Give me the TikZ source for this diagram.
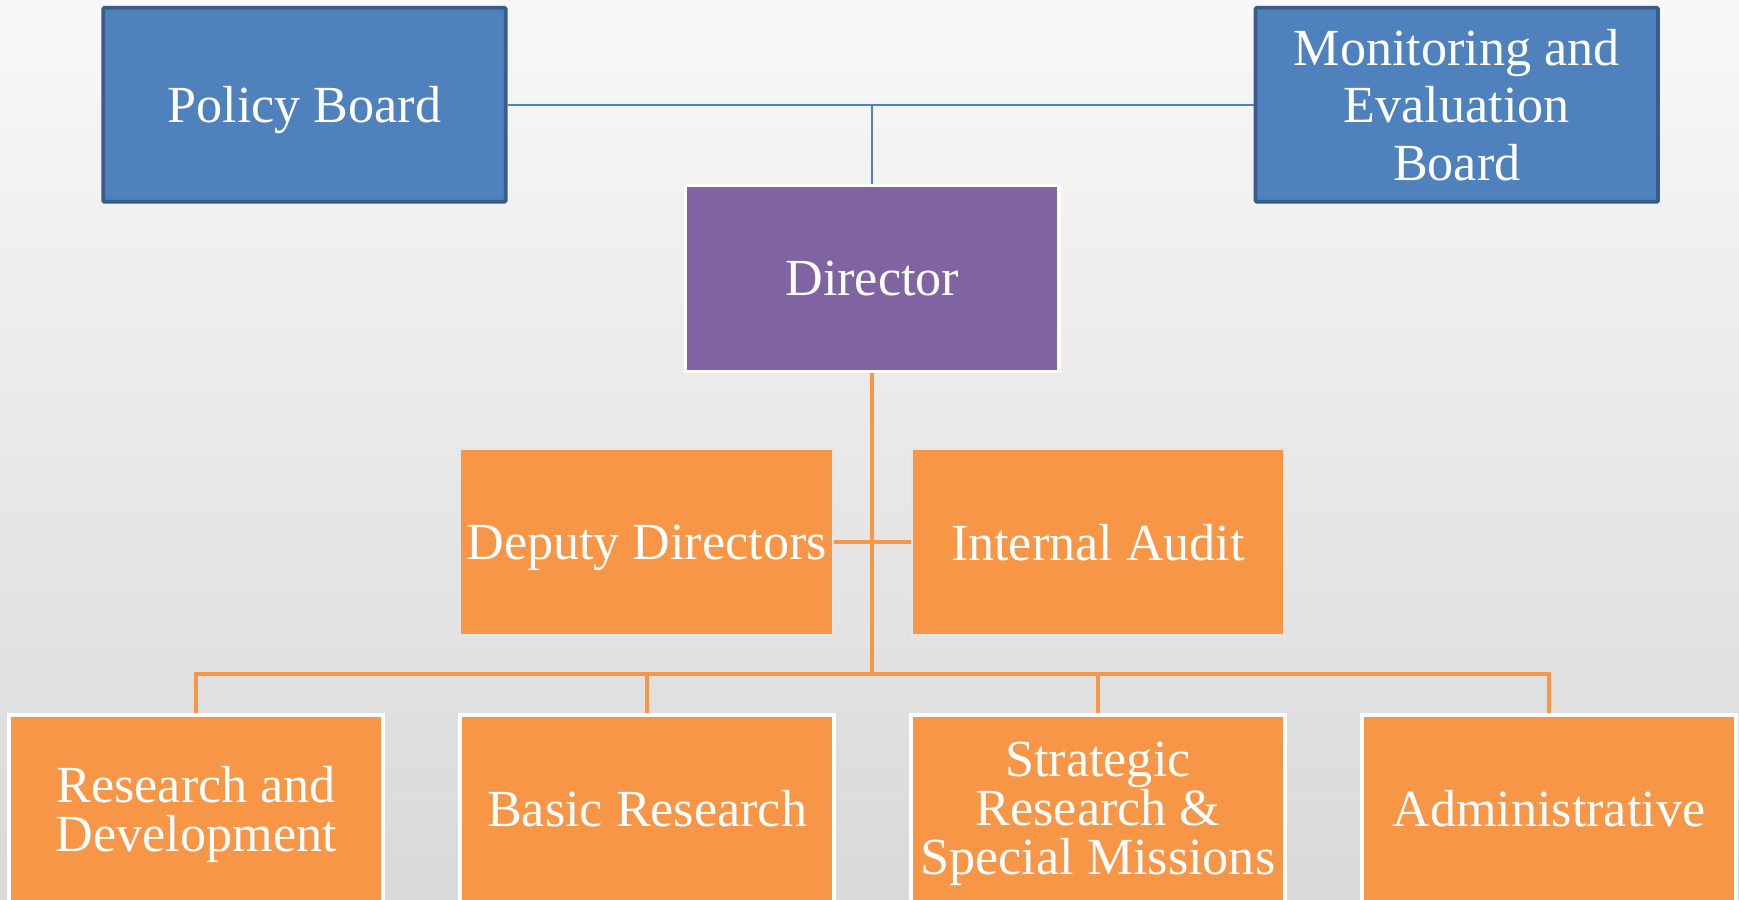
\documentclass[tikz,border=0pt]{standalone}
\usepackage{fontspec}
\setmainfont{Liberation Serif}
\definecolor{boardblue}{HTML}{4F81BD}
\definecolor{boardedge}{HTML}{385D8A}
\definecolor{dirpurple}{HTML}{8064A2}
\definecolor{unitorange}{HTML}{F79646}
\definecolor{bgtop}{HTML}{F8F8F8}
\definecolor{bgbot}{HTML}{D9D9D9}
\newcommand{\bx}{\fontsize{23.5}{22}\selectfont}

\begin{document}
\begin{tikzpicture}[x=0.5pt,y=-0.5pt,
   box/.style={rectangle, text=white, font=\bx, align=center, inner sep=0pt,
      text depth=0pt},
   board/.style={box, fill=boardblue, draw=boardedge, line width=1.7pt,
      minimum width=181.5pt, minimum height=87.5pt, rounded corners=0.6pt},
   chief/.style={box, fill=dirpurple, draw=white, line width=1.5pt,
      minimum width=168.5pt, minimum height=84pt},
   staff/.style={box, fill=unitorange, draw=white!90!black, line width=1pt,
      minimum width=168pt, minimum height=84pt},
   unit/.style={box, fill=unitorange, draw=white, line width=1.8pt,
      minimum width=168.5pt, minimum height=84pt},
   bline/.style={boardblue, line width=1pt},
   oline/.style={unitorange, line width=1.8pt}]
   \useasboundingbox (0,0) rectangle (1568,811);
   \clip (0,0) rectangle (1568,811);
   \shade[top color=bgtop, bottom color=bgbot] (0,0) rectangle (1568,811);
   % boards and director
   \node[board] (pb) at (274.5,94.5) {Policy Board};
   \node[board, font=\fontsize{23.5}{26}\selectfont] (meb) at (1313.5,94.5)
      {Monitoring and\\Evaluation\\Board};
   \node[chief] (dir) at (786.5,251) {Director};
   % staff units
   \node[staff] (dd) at (583,489) {Deputy Directors};
   \node[staff] (ia) at (990,489) {Internal Audit};
   % divisions
   \node[unit] (rd) at (177,729) {Research and\\Development};
   \node[unit] (br) at (583.5,729) {Basic Research};
   \node[unit] (srm) at (990,729) {Strategic\\Research \&\\Special Missions};
   \node[unit] (adm) at (1396.5,729) {Administrative};
   \coordinate (bus) at (786.5,608);
   % connectors
   \draw[bline] (pb) -- (meb);
   \draw[bline] (dir.north) -- (dir.north |- pb.east);
   \draw[oline] (dir.south) -- (bus);
   \draw[oline] (dd) -- (ia);
   \draw[oline] (rd.north) |- (bus) -| (adm.north);
   \foreach \u in {br,srm} {
    \draw[oline] (\u.north) -- (\u.north |- bus);
   }
\end{tikzpicture}
\end{document}
